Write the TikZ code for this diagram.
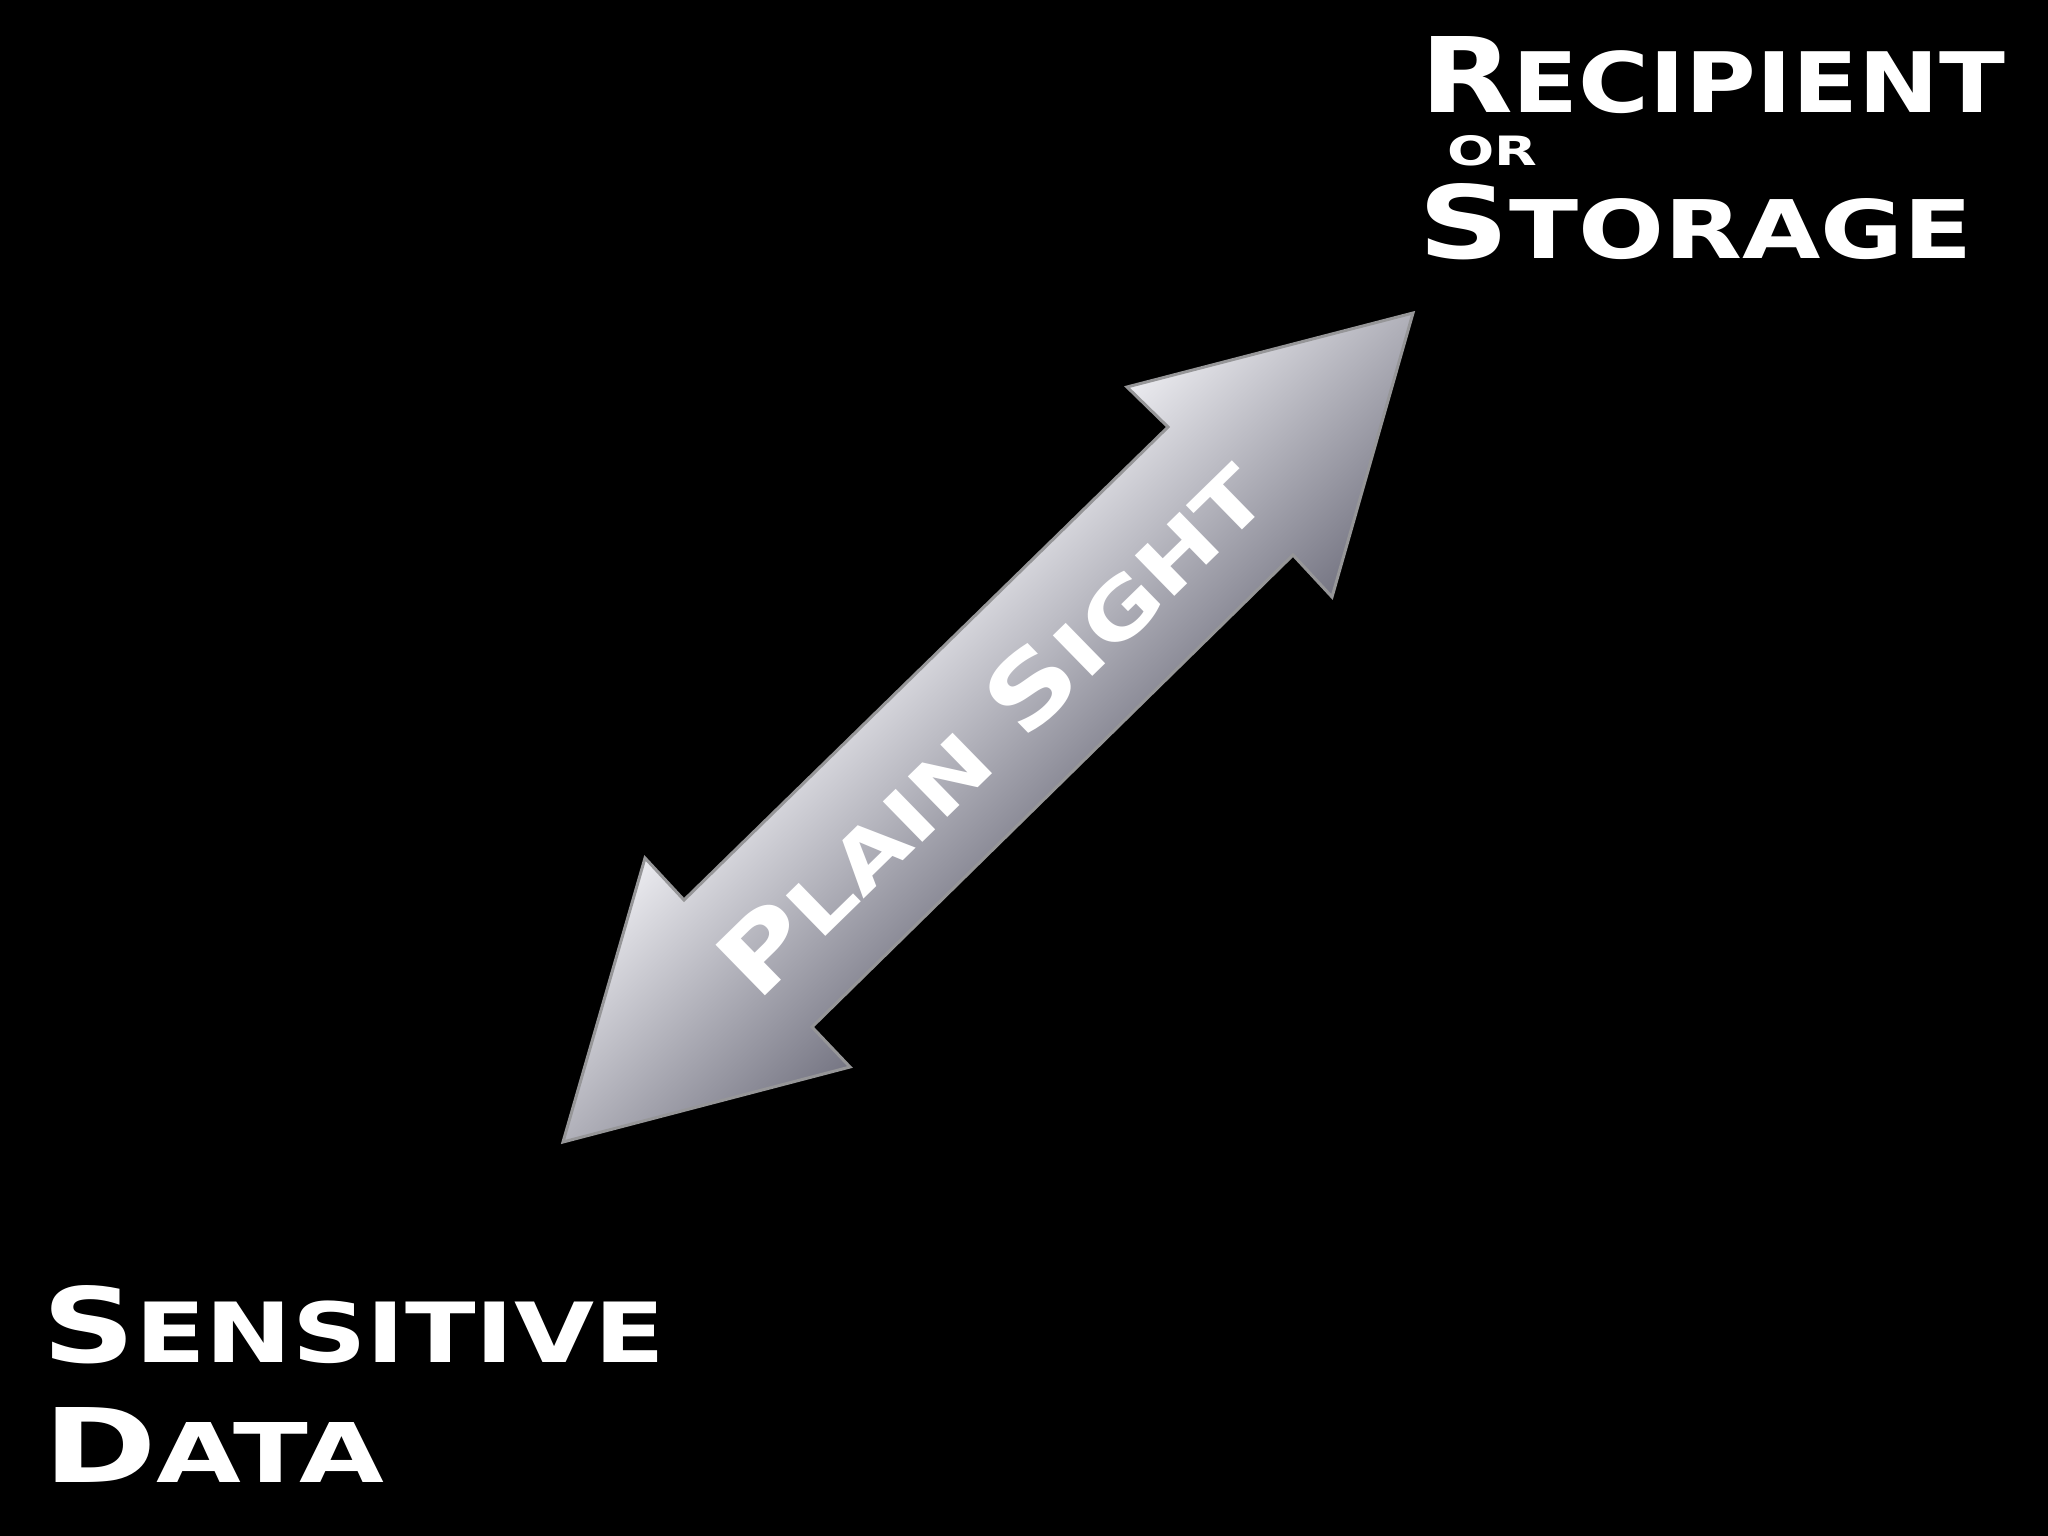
\documentclass[tikz,border=0pt]{standalone}
\usepackage{graphicx}
\usepackage{fontspec}
\setsansfont{DejaVu Sans}
\usetikzlibrary{calc}
\definecolor{arrlight}{RGB}{240,240,244}
\definecolor{arrmid}{RGB}{186,186,192}
\definecolor{arrdark}{RGB}{112,112,126}
\definecolor{arredge}{RGB}{150,150,152}
\newcommand\scword[2]{{\fontsize{100pt}{100pt}\selectfont #1}{\fontsize{80pt}{80pt}\selectfont #2}}
\newcommand\scsmall[1]{{\fontsize{80pt}{80pt}\selectfont #1}}
\newcommand\plaintext{\resizebox{720pt}{72pt}{\scword{P}{LAIN}\hspace{30pt}\scword{S}{IGHT}}}
\tikzset{
  lbl/.style={inner sep=0pt, outer sep=0pt, text=white, font=\sffamily\bfseries, anchor=base west},
  arrowtxt/.style={inner sep=0pt, outer sep=0pt, font=\sffamily\bfseries, rotate=44.3},
}
\begin{document}
\begin{tikzpicture}[x=1pt,y=-1pt]
\useasboundingbox (0,0) rectangle (2048,1536);
\fill[black] (0,0) rectangle (2048,1536);
% arrow outline points
\coordinate (tt) at (1413,313);
\coordinate (tl) at (1127,387);
\coordinate (tli) at (1168,427);
\coordinate (bli) at (684,900);
\coordinate (bl) at (645,858);
\coordinate (bt) at (563,1142);
\coordinate (br) at (850,1067);
\coordinate (bri) at (812,1027);
\coordinate (tri) at (1293,555);
\coordinate (tr) at (1332,597);
\coordinate (ac) at (990,727);
\begin{scope}
  \clip (tt) -- (tl) -- (tli) -- (bli) -- (bl) -- (bt) -- (br) -- (bri) -- (tri) -- (tr) -- cycle;
  \begin{scope}[transform canvas={rotate around={44.3:(ac)}}]
    \shade[top color=arrlight, middle color=arrmid, bottom color=arrdark]
      ($(ac)+(-760,-160)$) rectangle ($(ac)+(760,160)$);
  \end{scope}
\end{scope}
\draw[arredge, line width=3pt, line join=miter]
  (tt) -- (tl) -- (tli) -- (bli) -- (bl) -- (bt) -- (br) -- (bri) -- (tri) -- (tr) -- cycle;
% text on the arrow
\node[arrowtxt, text=white] (plain) at (ac) {\plaintext};
% labels
\node[lbl] (rec) at (1420,113) {\resizebox{585pt}{76pt}{\scword{R}{ECIPIENT}}};
\node[lbl] (or) at (1447,165) {\resizebox{90pt}{30pt}{\scsmall{OR}}};
\node[lbl] (sto) at (1418,258) {\resizebox{555pt}{75pt}{\scword{S}{TORAGE}}};
\node[lbl] (sen) at (42,1362) {\resizebox{623pt}{77pt}{\scword{S}{ENSITIVE}}};
\node[lbl] (dat) at (43,1482) {\resizebox{341pt}{75pt}{\scword{D}{ATA}}};
\end{tikzpicture}
\end{document}
